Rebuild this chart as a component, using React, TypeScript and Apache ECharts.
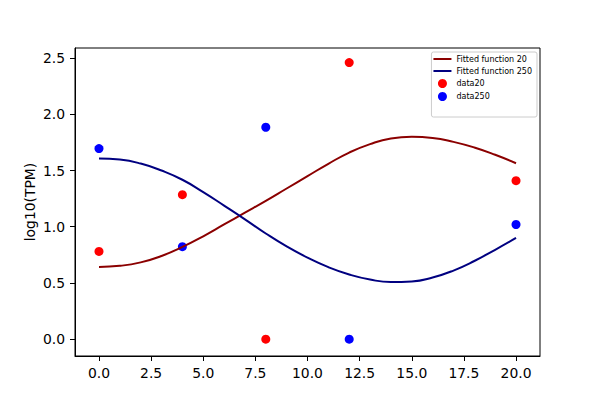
import React, { useEffect, useRef } from "react";
import * as echarts from "echarts";

const xTicks = [0, 2.5, 5, 7.5, 10, 12.5, 15, 17.5, 20];
const yTicks = [0, 0.5, 1, 1.5, 2, 2.5];

const dataX = [0, 4, 8, 12, 20];
const data20 = [0.78, 1.285, 0.0, 2.46, 1.41];
const data250 = [1.695, 0.823, 1.885, 0.0, 1.02];

const fitX = [0, 1, 2, 3, 4, 5, 6, 7, 8, 9, 10, 11, 12, 13, 14, 15, 16, 17, 18, 19, 20];
const fit20 = [0.642, 0.652, 0.683, 0.74, 0.82, 0.915, 1.02, 1.125, 1.23, 1.34, 1.45, 1.56, 1.66, 1.735, 1.785, 1.8, 1.79, 1.755, 1.705, 1.64, 1.565];
const fit250 = [1.608, 1.598, 1.562, 1.5, 1.418, 1.308, 1.188, 1.066, 0.94, 0.825, 0.725, 0.64, 0.575, 0.53, 0.508, 0.513, 0.548, 0.61, 0.695, 0.795, 0.9];

const FONT = "DejaVu Sans";
const LINE_ICON = "path://M0,0 L36,0 L36,4 L0,4 Z";

export default function App() {
  const ref = useRef<HTMLDivElement>(null);
  useEffect(() => {
    document.body.style.margin = "0";
    const chart = echarts.init(ref.current!, null, { renderer: "svg" });
    const axisCommon = {
      type: "value",
      splitLine: { show: false },
      axisLine: { show: true, onZero: false, lineStyle: { color: "#000000", width: 1 } },
    };
    chart.setOption({
      animation: false,
      backgroundColor: "#ffffff",
      textStyle: { fontFamily: FONT },
      grid: {
        left: 75,
        right: 60,
        top: 48,
        bottom: 44,
        containLabel: false,
        outerBoundsMode: "none",
        show: true,
        borderColor: "#000000",
        borderWidth: 1,
        backgroundColor: "transparent",
      },
      legend: {
        orient: "vertical",
        right: 63,
        top: 52,
        padding: [3, 5, 16, 2],
        itemWidth: 18,
        itemHeight: 9,
        itemGap: 4,
        symbolKeepAspect: true,
        borderColor: "#cccccc",
        borderWidth: 1,
        borderRadius: 2,
        backgroundColor: "rgba(255,255,255,0.8)",
        textStyle: { fontFamily: FONT, fontSize: 8, color: "#000000" },
        data: [
          { name: "Fitted function 20", icon: LINE_ICON },
          { name: "Fitted function 250", icon: LINE_ICON },
          { name: "data20", icon: "circle" },
          { name: "data250", icon: "circle" },
        ],
      },
      xAxis: {
        ...axisCommon,
        min: -1.15,
        max: 21.15,
        axisTick: {
          show: true,
          inside: false,
          length: 5,
          customValues: xTicks,
          lineStyle: { color: "#000000", width: 1 },
        },
        axisLabel: {
          customValues: xTicks,
          margin: 10,
          fontFamily: FONT,
          fontSize: 13.9,
          color: "#000000",
          formatter: (v: number) => v.toFixed(1),
        },
      },
      yAxis: {
        ...axisCommon,
        min: -0.15,
        max: 2.59,
        name: "log10(TPM)",
        nameLocation: "middle",
        nameGap: 38,
        nameMoveOverlap: false,
        nameTextStyle: { fontFamily: FONT, fontSize: 13.9, color: "#000000" },
        axisTick: {
          show: true,
          inside: false,
          length: 5,
          customValues: yTicks,
          lineStyle: { color: "#000000", width: 1 },
        },
        axisLabel: {
          customValues: yTicks,
          margin: 10,
          fontFamily: FONT,
          fontSize: 13.9,
          color: "#000000",
          formatter: (v: number) => v.toFixed(1),
        },
      },
      series: [
        {
          name: "Fitted function 20",
          type: "line",
          smooth: true,
          symbol: "none",
          showSymbol: false,
          lineStyle: { color: "#8b0000", width: 2 },
          itemStyle: { color: "#8b0000" },
          data: fitX.map((x, i) => [x, fit20[i]]),
        },
        {
          name: "Fitted function 250",
          type: "line",
          smooth: true,
          symbol: "none",
          showSymbol: false,
          lineStyle: { color: "#000080", width: 2 },
          itemStyle: { color: "#000080" },
          data: fitX.map((x, i) => [x, fit250[i]]),
        },
        {
          name: "data20",
          type: "scatter",
          symbolSize: 9,
          itemStyle: { color: "#ff0000", opacity: 1 },
          data: dataX.map((x, i) => [x, data20[i]]),
        },
        {
          name: "data250",
          type: "scatter",
          symbolSize: 9,
          itemStyle: { color: "#0000ff", opacity: 1 },
          data: dataX.map((x, i) => [x, data250[i]]),
        },
      ],
    });
    return () => chart.dispose();
  }, []);
  return (
    <div
      ref={ref}
      style={{ position: "fixed", left: 0, top: 0, width: 600, height: 400 }}
    />
  );
}
